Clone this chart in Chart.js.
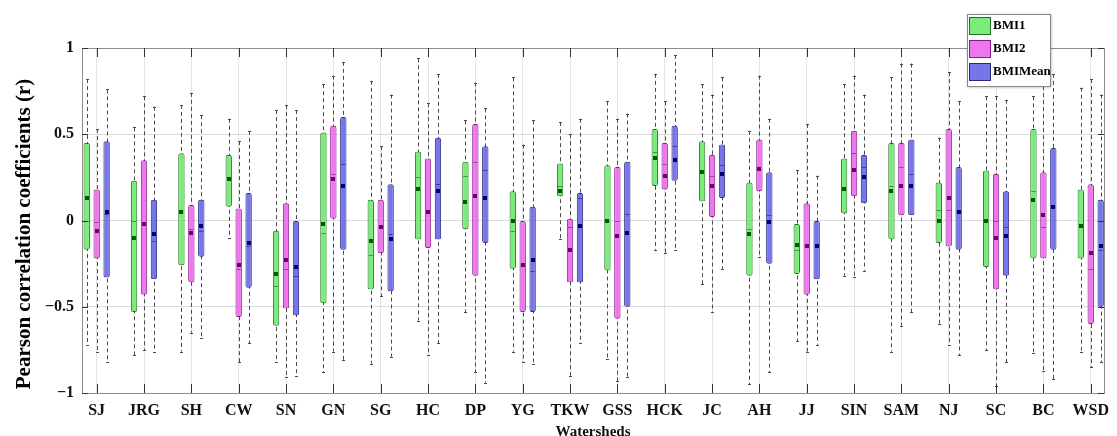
<!DOCTYPE html>
<html>
<head>
<meta charset="utf-8">
<script src="https://cdn.jsdelivr.net/npm/chart.js@4.4.0/dist/chart.umd.min.js"></script>
<style>
  html, body { margin: 0; padding: 0; background: #fff; }
  #wrap { width: 1117px; height: 436px; }
</style>
</head>
<body>
<div id="wrap"><canvas id="chart"></canvas></div>
<script>
const watersheds = ["SJ", "JRG", "SH", "CW", "SN", "GN", "SG", "HC", "DP", "YG", "TKW",
  "GSS", "HCK", "JC", "AH", "JJ", "SIN", "SAM", "NJ", "SC", "BC", "WSD"];
const yTicks = [-1, -0.5, 0, 0.5, 1];

// BMI1
const bmi1Max = [0.82, 0.54, 0.67, 0.59, 0.64, 0.79, 0.81, 0.94, 0.58, 0.83, 0.57, 0.69, 0.85, 0.79, 0.52, 0.29, 0.79, 0.83, 0.48, 0.72, 0.72, 0.77];
const bmi1Q3 = [0.45, 0.23, 0.39, 0.38, -0.06, 0.51, 0.12, 0.40, 0.34, 0.17, 0.33, 0.32, 0.53, 0.46, 0.22, -0.02, 0.36, 0.45, 0.22, 0.29, 0.53, 0.18];
const bmi1Median = [0.00, 0.00, 0.05, 0.25, -0.38, -0.07, -0.20, 0.25, 0.26, -0.06, 0.20, 0.00, 0.40, 0.28, -0.05, -0.17, 0.18, 0.20, 0.06, 0.00, 0.17, -0.02];
const bmi1Q1 = [-0.17, -0.53, -0.26, 0.08, -0.61, -0.48, -0.40, -0.11, -0.05, -0.28, 0.14, -0.29, 0.20, 0.11, -0.32, -0.31, 0.04, -0.11, -0.13, -0.27, -0.22, -0.22];
const bmi1Min = [-0.72, -0.78, -0.76, -0.10, -0.82, -0.88, -0.83, -0.58, -0.53, -0.76, -0.11, -0.80, -0.17, -0.37, -0.95, -0.70, -0.32, -0.76, -0.60, -0.75, -0.77, -0.76];
const bmi1Mean = [0.13, -0.10, 0.05, 0.24, -0.31, -0.02, -0.12, 0.18, 0.11, 0.00, 0.17, 0.00, 0.36, 0.28, -0.08, -0.14, 0.18, 0.17, 0.00, 0.00, 0.12, -0.03];

// BMI2
const bmi2Max = [0.53, 0.72, 0.74, 0.46, 0.67, 0.84, 0.43, 0.68, 0.80, 0.44, 0.50, 0.59, 0.69, 0.73, 0.84, 0.56, 0.84, 0.91, 0.86, 0.72, 0.82, 0.82];
const bmi2Q3 = [0.18, 0.35, 0.09, 0.07, 0.10, 0.55, 0.12, 0.36, 0.56, 0.00, 0.01, 0.31, 0.45, 0.38, 0.47, 0.10, 0.52, 0.45, 0.53, 0.27, 0.28, 0.21];
const bmi2Median = [-0.01, -0.01, -0.05, -0.28, -0.28, 0.27, -0.04, 0.05, 0.34, -0.26, -0.04, 0.00, 0.33, 0.26, 0.30, -0.15, 0.39, 0.31, 0.06, 0.00, -0.04, -0.28];
const bmi2Q1 = [-0.22, -0.43, -0.36, -0.56, -0.51, 0.01, -0.19, -0.16, -0.32, -0.53, -0.36, -0.57, 0.18, 0.02, 0.17, -0.43, 0.14, 0.03, -0.15, -0.40, -0.22, -0.60];
const bmi2Min = [-0.76, -0.75, -0.65, -0.82, -0.91, -0.76, -0.44, -0.78, -0.88, -0.82, -0.90, -0.93, -0.19, -0.53, -0.21, -0.76, -0.33, -0.61, -0.72, -0.96, -0.87, -0.85];
const bmi2Mean = [-0.06, -0.02, -0.07, -0.26, -0.23, 0.24, -0.04, 0.05, 0.14, -0.26, -0.17, -0.09, 0.26, 0.20, 0.30, -0.15, 0.29, 0.20, 0.13, -0.10, 0.03, -0.19];

// BMIMean
const bmiMeanMax = [0.76, 0.66, 0.61, 0.52, 0.64, 0.92, 0.73, 0.85, 0.65, 0.58, 0.59, 0.62, 0.96, 0.83, 0.59, 0.26, 0.73, 0.91, 0.69, 0.70, 0.85, 0.73];
const bmiMeanQ3 = [0.46, 0.12, 0.12, 0.16, 0.00, 0.60, 0.21, 0.48, 0.43, 0.08, 0.16, 0.34, 0.55, 0.44, 0.28, 0.00, 0.38, 0.47, 0.31, 0.17, 0.42, 0.12];
const bmiMeanMedian = [0.04, -0.12, -0.06, -0.15, -0.32, 0.33, -0.08, 0.21, 0.29, -0.29, 0.13, 0.04, 0.43, 0.32, 0.03, -0.15, 0.31, 0.27, 0.05, -0.04, 0.08, -0.17];
const bmiMeanQ1 = [-0.33, -0.34, -0.21, -0.39, -0.55, -0.17, -0.41, -0.11, -0.13, -0.53, -0.36, -0.50, 0.23, 0.13, -0.25, -0.34, 0.10, 0.03, -0.17, -0.32, -0.17, -0.50];
const bmiMeanMin = [-0.82, -0.76, -0.68, -0.71, -0.90, -0.81, -0.79, -0.71, -0.94, -0.83, -0.71, -0.91, -0.17, -0.28, -0.88, -0.72, -0.29, -0.53, -0.78, -0.82, -0.92, -0.82];
const bmiMeanMean = [0.05, -0.08, -0.03, -0.13, -0.27, 0.20, -0.11, 0.17, 0.13, -0.23, -0.03, -0.07, 0.35, 0.27, -0.01, -0.15, 0.25, 0.20, 0.05, -0.09, 0.08, -0.15];

const serif = "'Liberation Serif', 'DejaVu Serif', serif";

function boxSet(label, fill, edge, dark, q1, q3, min, max, median, mean) {
  return {
    label: label,
    data: watersheds.map((w, i) => ({ x: i + 1, y: [q1[i], q3[i]] })),
    backgroundColor: fill,
    borderColor: edge,
    borderWidth: 1,
    borderSkipped: false,
    borderRadius: 2,
    dark: dark,
    stats: { min: min, max: max, median: median, mean: mean }
  };
}

const datasets = [
  boxSet("BMI1", "rgb(122,236,122)", "rgb(40,110,40)", "rgb(0,90,0)", bmi1Q1, bmi1Q3, bmi1Min, bmi1Max, bmi1Median, bmi1Mean),
  boxSet("BMI2", "rgb(238,118,238)", "rgb(130,30,130)", "rgb(110,0,110)", bmi2Q1, bmi2Q3, bmi2Min, bmi2Max, bmi2Median, bmi2Mean),
  boxSet("BMIMean", "rgb(118,118,232)", "rgb(40,40,130)", "rgb(0,0,110)", bmiMeanQ1, bmiMeanQ3, bmiMeanMin, bmiMeanMax, bmiMeanMedian, bmiMeanMean)
];

const boxExtras = {
  id: "boxExtras",
  beforeDatasetsDraw(chart) {
    const ctx = chart.ctx;
    const y = chart.scales.y;
    ctx.save();
    ctx.strokeStyle = "#4a4a4a";
    ctx.lineWidth = 1;
    chart.data.datasets.forEach((ds, di) => {
      chart.getDatasetMeta(di).data.forEach((bar, i) => {
        const x = Math.round(bar.x) + 0.5;
        const top = y.getPixelForValue(ds.stats.max[i]);
        const bot = y.getPixelForValue(ds.stats.min[i]);
        ctx.setLineDash([4, 3]);
        ctx.beginPath();
        ctx.moveTo(x, top);
        ctx.lineTo(x, bot);
        ctx.stroke();
        ctx.setLineDash([]);
        ctx.beginPath();
        ctx.moveTo(x - 1.5, Math.round(top) + 0.5);
        ctx.lineTo(x + 1.5, Math.round(top) + 0.5);
        ctx.moveTo(x - 1.5, Math.round(bot) + 0.5);
        ctx.lineTo(x + 1.5, Math.round(bot) + 0.5);
        ctx.stroke();
      });
    });
    ctx.restore();
  },
  afterDatasetsDraw(chart) {
    const ctx = chart.ctx;
    const y = chart.scales.y;
    ctx.save();
    chart.data.datasets.forEach((ds, di) => {
      chart.getDatasetMeta(di).data.forEach((bar, i) => {
        const half = bar.width / 2;
        const my = Math.round(y.getPixelForValue(ds.stats.median[i])) + 0.5;
        ctx.strokeStyle = ds.borderColor;
        ctx.globalAlpha = 0.7;
        ctx.lineWidth = 1;
        ctx.beginPath();
        ctx.moveTo(bar.x - half + 1, my);
        ctx.lineTo(bar.x + half - 1, my);
        ctx.stroke();
        ctx.globalAlpha = 1;
        const ay = y.getPixelForValue(ds.stats.mean[i]);
        ctx.fillStyle = ds.dark;
        ctx.fillRect(Math.round(bar.x) - 2, Math.round(ay) - 2, 4, 4);
      });
    });
    ctx.restore();
  },
  afterDraw(chart) {
    const ctx = chart.ctx;
    const a = chart.chartArea;
    const x = chart.scales.x;
    const y = chart.scales.y;
    ctx.save();
    // frame
    ctx.strokeStyle = "#8c8c8c";
    ctx.lineWidth = 1;
    ctx.strokeRect(Math.round(a.left) + 0.5, Math.round(a.top) + 0.5,
      Math.round(a.right - a.left), Math.round(a.bottom - a.top));
    // inward ticks
    ctx.strokeStyle = "#333";
    ctx.beginPath();
    x.ticks.forEach(t => {
      const px = Math.round(x.getPixelForValue(t.value)) + 0.5;
      ctx.moveTo(px, a.bottom);
      ctx.lineTo(px, a.bottom - 9);
      ctx.moveTo(px, a.top);
      ctx.lineTo(px, a.top + 9);
    });
    y.ticks.forEach(t => {
      const py = Math.round(y.getPixelForValue(t.value)) + 0.5;
      ctx.moveTo(a.left, py);
      ctx.lineTo(a.left + 6, py);
      ctx.moveTo(a.right, py);
      ctx.lineTo(a.right - 6, py);
    });
    ctx.stroke();

    // y title
    ctx.fillStyle = "#000";
    ctx.font = "bold 21px " + serif;
    ctx.textAlign = "center";
    ctx.textBaseline = "middle";
    ctx.translate(25, 234);
    ctx.rotate(-Math.PI / 2);
    ctx.fillText("Pearson correlation coefficients (r)", 0, 0);
    ctx.setTransform(1, 0, 0, 1, 0, 0);

    // legend
    const lx = 967, ly = 14, lw = 83, lh = 72;
    ctx.shadowColor = "rgba(0,0,0,0.35)";
    ctx.shadowBlur = 3;
    ctx.shadowOffsetX = 1;
    ctx.shadowOffsetY = 1;
    ctx.fillStyle = "#fff";
    ctx.fillRect(lx, ly, lw, lh);
    ctx.shadowColor = "transparent";
    ctx.strokeStyle = "#888";
    ctx.strokeRect(lx + 0.5, ly + 0.5, lw, lh);
    ctx.font = "bold 13px " + serif;
    ctx.textAlign = "left";
    ctx.textBaseline = "middle";
    chart.data.datasets.forEach((ds, i) => {
      const ry = ly + 3 + i * 23;
      ctx.fillStyle = ds.backgroundColor;
      ctx.fillRect(lx + 2, ry, 21, 17);
      ctx.strokeStyle = ds.borderColor;
      ctx.strokeRect(lx + 2.5, ry + 0.5, 21, 17);
      ctx.fillStyle = "#000";
      ctx.fillText(ds.label, lx + 26, ry + 9);
    });
    ctx.restore();
  }
};

Chart.register(boxExtras);

new Chart(document.getElementById("chart"), {
  type: "bar",
  data: { datasets: datasets },
  options: {
    responsive: true,
    maintainAspectRatio: false,
    animation: false,
    layout: { padding: { left: 0, top: 48, right: 4, bottom: 0 } },
    datasets: { bar: { categoryPercentage: 0.63, barPercentage: 0.64 } },
    plugins: { legend: { display: false }, tooltip: { enabled: false } },
    scales: {
      x: {
        type: "linear",
        min: 0.69,
        max: 22.28,
        offset: false,
        afterBuildTicks: s => { s.ticks = watersheds.map((w, i) => ({ value: i + 1 })); },
        afterFit: s => { s.height = 43; },
        grid: { color: "#e4e4e4", drawTicks: false, offset: false },
        border: { display: false },
        ticks: {
          color: "#111",
          padding: 8,
          maxRotation: 0,
          autoSkip: false,
          font: { family: serif, weight: "bold", size: 16 },
          callback: v => watersheds[Math.round(v) - 1] || ""
        },
        title: {
          display: true,
          text: "Watersheds",
          color: "#111",
          padding: 0,
          font: { family: serif, weight: "bold", size: 15, lineHeight: 0.5 }
        }
      },
      y: {
        min: -1,
        max: 1,
        afterBuildTicks: s => { s.ticks = yTicks.map(v => ({ value: v })); },
        afterFit: s => { s.width = 82; },
        grid: { color: "#dcdcdc", drawTicks: false },
        border: { display: false },
        ticks: {
          color: "#111",
          padding: 8,
          font: { family: serif, weight: "bold", size: 16 },
          callback: v => String(v).replace("-", "\u2212")
        }
      }
    }
  }
});
</script>
</body>
</html>
